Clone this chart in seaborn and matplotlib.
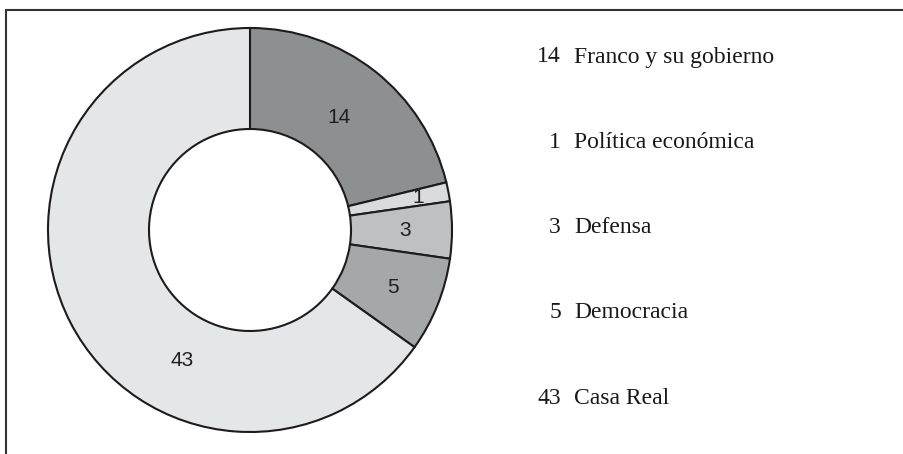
import numpy as np
import matplotlib
matplotlib.use("Agg")
import matplotlib.pyplot as plt
import seaborn as sns

# Data
categories = ["Franco y su gobierno", "Política económica", "Defensa", "Democracia", "Casa Real"]
counts = [14, 1, 3, 5, 43]

# Styling per wedge
colors = ["#8e8f91", "#dadbdd", "#bfc0c2", "#a6a7a9", "#e5e6e7"]
label_frac = [0.5, 0.5, 0.5, 0.5, 0.65]   # position along each wedge's angle
label_rad = [0.71, 0.85, 0.77, 0.76, 0.73]  # radius for the inside labels

sns.set_theme(style="white")
plt.rcParams["font.family"] = ["Liberation Sans", "DejaVu Sans"]

fig = plt.figure(figsize=(9.04, 4.54), dpi=100)

# frame lines (top and left only, as in the source)
fig.add_artist(plt.Line2D([6 / 904, 1.0], [1 - 10 / 454, 1 - 10 / 454], color="#333333", lw=1.5))
fig.add_artist(plt.Line2D([6 / 904, 6 / 904], [0.0, 1 - 10 / 454], color="#333333", lw=1.5))

ax = fig.add_axes([48 / 904, 22 / 454, 404 / 904, 404 / 454])
wedges, _ = ax.pie(
    counts,
    colors=colors,
    startangle=90,
    counterclock=False,
    radius=1.0,
    wedgeprops=dict(width=0.5, edgecolor="#1e1b1c", linewidth=1.5),
)
ax.set_xlim(-1.0, 1.0)
ax.set_ylim(-1.0, 1.0)
ax.set_aspect("equal")
ax.axis("off")

for w, n, f, r in zip(wedges, counts, label_frac, label_rad):
    ang = np.deg2rad(w.theta1 + (w.theta2 - w.theta1) * f)
    ax.text(r * np.cos(ang), r * np.sin(ang), str(n), ha="center", va="center",
            fontsize=15, color="#231f20")

# legend-like text column on the right
serif = ["Liberation Serif", "DejaVu Serif"]
ys = np.linspace(1 - 57 / 454, 1 - 398 / 454, len(categories))
for y, n, cat in zip(ys, counts, categories):
    fig.text(561 / 904, y, str(n), ha="right", va="center", fontsize=17,
             family=serif, color="#1a1718")
    fig.text(574 / 904, y, cat, ha="left", va="center", fontsize=17,
             family=serif, color="#1a1718")

fig.savefig("out.png", dpi=100, facecolor="white")
